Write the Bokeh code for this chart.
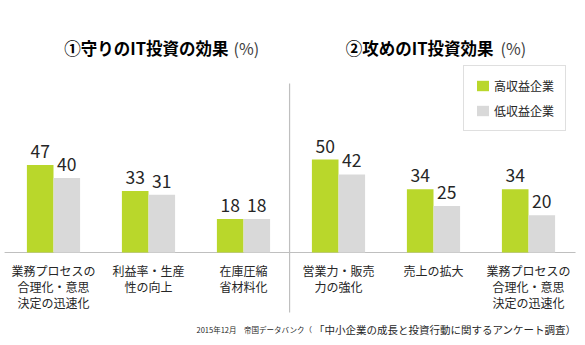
from bokeh.plotting import figure
from bokeh.models import ColumnDataSource, Range1d, Label, Legend, LegendItem
from bokeh.embed import file_html
from bokeh.resources import INLINE
from bokeh.core.properties import value

# ---- data ----
categories = [
    "業務プロセスの\n合理化・意思\n決定の迅速化",
    "利益率・生産\n性の向上",
    "在庫圧縮\n省材料化",
    "営業力・販売\n力の強化",
    "売上の拡大",
    "業務プロセスの\n合理化・意思\n決定の迅速化",
]
high = [47, 33, 18, 50, 34, 34]
low = [40, 31, 18, 42, 25, 20]
series = ["高収益企業", "低収益企業"]
titles = ["①守りのIT投資の効果", "②攻めのIT投資効果"]
unit = "(%)"
note = ["2015年12月　帝国データバンク（", "「中小企業の成長と投資行動に関するアンケート調査）"]

GREEN = "#b9d72b"
GRAY = "#d9d9d9"
LINE = "#bfbfbf"
FONT = "Noto Sans CJK JP"
TXT = "#262626"

W, H = 585, 345
PX_PER_GROUP = 95.0
PX_PER_UNIT = 1.86
X0 = 53.0      # pixel centre of first group
BASE = 252.0   # pixel of baseline from top
LABEL_GAP = 7.0 / PX_PER_UNIT

idx = list(range(len(categories)))
off = 0.14
bw = 0.28

src = ColumnDataSource(dict(
    x=idx,
    xh=[i - off for i in idx],
    xl=[i + off for i in idx],
    high=high,
    low=low,
    hy=[v + LABEL_GAP for v in high],
    ly=[v + LABEL_GAP for v in low],
    hs=[str(v) for v in high],
    ls=[str(v) for v in low],
    cat=categories,
    zero=[0] * len(idx),
))

p = figure(width=W, height=H, output_backend="svg", toolbar_location=None,
           x_range=Range1d(-X0 / PX_PER_GROUP, (W - X0) / PX_PER_GROUP),
           y_range=Range1d(-(H - BASE) / PX_PER_UNIT, BASE / PX_PER_UNIT),
           min_border=0, min_border_left=0, min_border_right=0,
           min_border_top=0, min_border_bottom=0)
p.axis.visible = False
p.grid.visible = False
p.outline_line_color = None
p.background_fill_color = "white"
p.border_fill_color = "white"

# baseline and divider
p.segment(x0=[-0.515], y0=[0], x1=[5.495], y1=[0], line_color=LINE, line_width=1.2)
p.segment(x0=[2.485], y0=[-(312 - BASE) / PX_PER_UNIT], x1=[2.485],
          y1=[(BASE - 83) / PX_PER_UNIT], line_color=LINE, line_width=1.2)

r1 = p.vbar(x="xh", top="high", width=bw, bottom=0, source=src,
            fill_color=GREEN, line_color=None)
r2 = p.vbar(x="xl", top="low", width=bw, bottom=0, source=src,
            fill_color=GRAY, line_color=None)

# value labels
for xf, tf, yf in (("xh", "hs", "hy"), ("xl", "ls", "ly")):
    p.text(x=xf, y=yf, text=tf, source=src, text_align="center",
           text_baseline="bottom",
           text_font=value(FONT), text_font_size="17.5px", text_color=TXT)

# category labels
p.text(x="x", y="zero", text="cat", source=src, text_align="center",
       text_baseline="top", y_offset=9, text_line_height=0.95,
       text_font=value(FONT), text_font_size="12px", text_color=TXT)

# titles
for tx, ux, t in ((228, 233, titles[0]), (493, 500, titles[1])):
    p.add_layout(Label(x=tx, y=H - 47, x_units="screen", y_units="screen",
                       text=t, text_align="right", text_baseline="middle",
                       text_font=FONT, text_font_size="16.5px",
                       text_font_style="bold", text_color="#000000"))
    p.add_layout(Label(x=ux, y=H - 47, x_units="screen", y_units="screen",
                       text=unit, text_align="left", text_baseline="middle",
                       text_font=FONT, text_font_size="16px",
                       text_color="#404040"))

# source note
p.add_layout(Label(x=311, y=H - 329, x_units="screen", y_units="screen",
                   text=note[0], text_align="right", text_baseline="middle",
                   text_font=FONT, text_font_size="7.5px", text_color=TXT))
p.add_layout(Label(x=576, y=H - 329, x_units="screen", y_units="screen",
                   text=note[1], text_align="right", text_baseline="middle",
                   text_font=FONT, text_font_size="10.5px", text_color=TXT))

legend = Legend(items=[LegendItem(label=series[0], renderers=[r1]),
                       LegendItem(label=series[1], renderers=[r2])],
                location=(463, H - 131), orientation="vertical",
                border_line_color=LINE, border_line_width=1,
                background_fill_color="white", background_fill_alpha=1,
                padding=11, spacing=8, margin=0,
                glyph_width=15, glyph_height=13, label_height=13,
                label_standoff=4, label_text_font=FONT,
                label_text_font_size="12px", label_text_color=TXT)
p.add_layout(legend)

open("out.html", "w").write(file_html(p, INLINE))
